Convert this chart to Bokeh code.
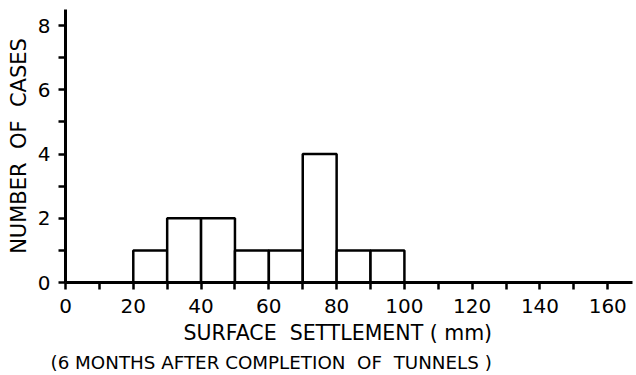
from bokeh.plotting import figure
from bokeh.models import FixedTicker, Range1d, Title
from bokeh.embed import file_html
from bokeh.resources import INLINE

# Histogram data: settlement bins (mm) and number of cases
bin_left = [20, 30, 40, 50, 60, 70, 80, 90]
bin_right = [30, 40, 50, 60, 70, 80, 90, 100]
cases = [1, 2, 2, 1, 1, 4, 1, 1]

x_major = [0, 20, 40, 60, 80, 100, 120, 140, 160]
x_minor = [10, 30, 50, 70, 90, 110, 130, 150]
y_major = [0, 2, 4, 6, 8]
y_minor = [1, 3, 5, 7]

x_title = "SURFACE\u00a0 SETTLEMENT ( mm)"
x_subtitle = "(6 MONTHS AFTER COMPLETION\u00a0 OF\u00a0 TUNNELS )"
y_title = "NUMBER\u00a0 OF\u00a0 CASES"

FONT = "DejaVu Sans"

p = figure(width=634, height=374, output_backend="svg", toolbar_location=None,
           x_range=Range1d(0, 167.3), y_range=Range1d(0, 8.5),
           min_border_left=65, min_border_right=2, min_border_top=9,
           min_border_bottom=80)
p.outline_line_color = None
p.grid.visible = False
p.background_fill_color = "white"

p.quad(left=bin_left, right=bin_right, bottom=0, top=cases,
       fill_color="white", line_color="black", line_width=2.5)

for ax, major, minor in ((p.xaxis[0], x_major, x_minor), (p.yaxis[0], y_major, y_minor)):
    ax.ticker = FixedTicker(ticks=major, minor_ticks=minor)
    ax.axis_line_width = 3
    ax.axis_line_color = "black"
    ax.major_tick_line_width = 2.5
    ax.minor_tick_line_width = 2.5
    ax.major_tick_line_color = "black"
    ax.minor_tick_line_color = "black"
    ax.major_tick_in = 0
    ax.minor_tick_in = 0
    ax.major_tick_out = 7
    ax.minor_tick_out = 7
    ax.major_label_text_font = FONT
    ax.major_label_text_font_size = "20px"
    ax.major_label_text_color = "black"

p.xaxis.major_label_standoff = 9
p.yaxis.major_label_standoff = 8
p.yaxis.axis_label = y_title
p.yaxis.axis_label_text_font = FONT
p.yaxis.axis_label_text_font_style = "normal"
p.yaxis.axis_label_text_font_size = "21px"
p.yaxis.axis_label_text_color = "black"
p.yaxis.axis_label_standoff = 4

t1 = Title(text=x_title, align="left", offset=118,
           text_font=FONT, text_font_size="20.5px", text_font_style="normal",
           text_color="black", standoff=7)
t2 = Title(text=x_subtitle, align="left", offset=-15,
           text_font=FONT, text_font_size="18.3px", text_font_style="normal",
           text_color="black", standoff=3)
p.add_layout(t1, "below")
p.add_layout(t2, "below")

open("out.html", "w").write(file_html(p, INLINE))
